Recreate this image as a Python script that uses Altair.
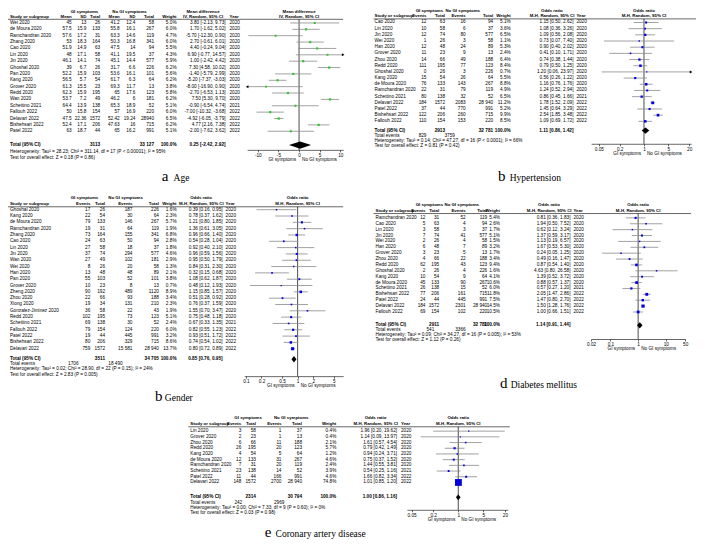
import altair as alt
import pandas as pd

# ------------------------------------------------------------------ data
# (a) Age — mean difference
age_study = ["Wei 2020", "de Moura 2020", "Ramchandran 2020", "Zhang 2020", "Cao 2020", "Lin 2020",
             "Jin 2020", "Ghoshal 2020", "Pan 2020", "Kang 2020", "Grover 2020", "Redd 2020", "Wan 2020",
             "Schettino 2021", "Fallouh 2022", "Delavari 2022", "Bishehsari 2022", "Patel 2022"]
age_gi_mean = [45, 57.5, 57.6, 53, 51.9, 48, 46.1, 39, 52.2, 56.5, 61.3, 62.3, 53.7, 64.4, 50, 47.5, 52.4, 63]
age_gi_sd = [13, 15.9, 17.2, 18.3, 14.9, 17.1, 14.1, 6.7, 15.9, 5.7, 15.5, 15.9, 7.2, 13.9, 15.8, 22.36, 17.1, 18.7]
age_gi_n = [26, 133, 31, 164, 63, 58, 74, 26, 103, 54, 23, 195, 49, 138, 154, 1572, 206, 44]
age_no_mean = [41.2, 55.8, 63.3, 50.3, 47.5, 41.1, 45.1, 31.7, 53.6, 61.7, 69.3, 65, 46.2, 65.3, 57, 52.42, 47.63, 65]
age_no_sd = [12.4, 16.1, 14.6, 16.8, 14, 19.5, 14.4, 6.6, 16.1, 6.3, 11.7, 17.6, 6, 18.9, 16.9, 19.24, 16, 16.2]
age_no_n = [58, 267, 119, 341, 94, 37, 577, 226, 101, 64, 13, 123, 181, 52, 220, 28940, 715, 991]
age_w = [5.0, 6.0, 4.7, 6.0, 5.5, 4.3, 5.9, 6.2, 5.6, 6.2, 3.8, 5.8, 6.2, 5.1, 6.0, 6.5, 6.2, 5.1]
age_md = [3.80, 1.70, -5.70, 2.70, 4.40, 6.90, 1.00, 7.30, -1.40, -5.20, -8.00, -2.70, 7.50, -0.90, -7.00, -4.92, 4.77, -2.00]
age_lo = [-2.13, -1.62, -12.30, -0.61, -0.24, -0.77, -2.42, 4.58, -5.79, -7.37, -16.90, -6.53, 5.30, -6.54, -10.32, -6.05, 2.16, -7.62]
age_hi = [9.73, 5.02, 0.90, 6.01, 9.04, 14.57, 4.42, 10.02, 2.99, -3.03, 0.90, 1.13, 9.70, 4.74, -3.68, -3.79, 7.38, 3.62]
age_year = [2020] * 13 + [2021, 2022, 2022, 2022, 2022]
age_total = [3113, 33127, 0.25, -2.42, 2.92]
age_het = "Heterogeneity: Tau² = 28.23; Chi² = 311.14, df = 17 (P < 0.00001); I² = 95%"
age_test = "Test for overall effect: Z = 0.18 (P = 0.86)"

# (b) Hypertension
ht_study = ["Cao 2020", "Lin 2020", "Jin 2020", "Wei 2020", "Han 2020", "Grover 2020", "Zhou 2020", "Redd 2020",
            "Ghoshal 2020", "Kang 2020", "de Moura 2020", "Ramchandran 2020", "Schettino 2021", "Delavari 2022",
            "Patel 2022", "Bishehsari 2022", "Fallouh 2022"]
ht_gi_e = [12, 10, 12, 1, 12, 11, 14, 111, 0, 15, 76, 22, 80, 184, 37, 122, 110]
ht_gi_n = [63, 58, 74, 26, 48, 23, 66, 195, 26, 54, 133, 31, 138, 1572, 44, 206, 154]
ht_no_e = [16, 6, 80, 3, 24, 9, 49, 77, 3, 26, 143, 79, 32, 2083, 770, 260, 153]
ht_no_n = [94, 37, 577, 58, 89, 13, 188, 123, 226, 64, 267, 119, 52, 28940, 991, 715, 220]
ht_w = [5.1, 3.6, 6.5, 1.1, 5.3, 2.4, 6.4, 8.4, 0.7, 5.5, 8.8, 4.9, 6.5, 11.2, 5.2, 9.9, 8.5]
ht_or = [1.15, 1.08, 1.09, 0.73, 0.90, 0.41, 0.74, 0.79, 1.20, 0.56, 1.16, 1.24, 0.86, 1.78, 1.45, 2.54, 1.09]
ht_lo = [0.50, 0.36, 0.56, 0.07, 0.40, 0.10, 0.38, 0.50, 0.06, 0.26, 0.76, 0.52, 0.45, 1.52, 0.64, 1.85, 0.69]
ht_hi = [2.62, 3.26, 2.08, 7.40, 2.02, 1.71, 1.44, 1.25, 23.97, 1.22, 1.76, 2.94, 1.66, 2.09, 3.29, 3.48, 1.72]
ht_year = [2020] * 12 + [2021] + [2022] * 4
ht_total = [2913, 32781, 1.11, 0.86, 1.42]
ht_events = [829, 3759]
ht_het = "Heterogeneity: Tau² = 0.14; Chi² = 47.27, df = 16 (P < 0.0001); I² = 66%"
ht_test = "Test for overall effect: Z = 0.81 (P = 0.42)"

# (c) Gender
gd_study = ["Ghoshal 2020", "Kang 2020", "de Moura 2020", "Ramchandran 2020", "Zhang 2020", "Cao 2020", "Lin 2020",
            "Jin 2020", "Wan 2020", "Wei 2020", "Han 2020", "Pan 2020", "Grover 2020", "Zheng 2020", "Zhou 2020",
            "Xiong 2020", "Gonzalez-Jiminez 2020", "Redd 2020", "Schettino 2021", "Fallouh 2022", "Patel 2022",
            "Bishehsari 2022", "Delavari 2022"]
gd_gi_e = [17, 22, 79, 19, 73, 24, 27, 37, 27, 8, 13, 55, 10, 90, 22, 19, 36, 102, 69, 79, 19, 80, 759]
gd_gi_n = [26, 54, 133, 31, 164, 63, 58, 74, 49, 26, 48, 103, 23, 192, 66, 34, 58, 195, 138, 154, 44, 206, 1572]
gd_no_e = [187, 30, 146, 64, 155, 50, 18, 294, 102, 20, 48, 52, 8, 489, 93, 131, 22, 73, 30, 124, 445, 329, 15581]
gd_no_n = [226, 64, 267, 119, 341, 94, 37, 577, 181, 58, 89, 101, 13, 1120, 188, 210, 43, 123, 52, 220, 991, 715, 28940]
gd_w = [1.6, 2.3, 5.7, 1.9, 6.8, 2.8, 1.8, 4.6, 2.9, 1.3, 2.1, 3.8, 0.7, 8.9, 3.4, 2.3, 1.9, 5.1, 2.4, 6.0, 3.2, 8.6, 13.7]
gd_or = [0.39, 0.78, 1.21, 1.36, 0.96, 0.54, 0.92, 0.96, 0.95, 0.84, 0.32, 1.08, 0.48, 1.15, 0.51, 0.76, 1.55, 0.75, 0.67, 0.82, 0.93, 0.74, 0.80]
gd_lo = [0.16, 0.37, 0.80, 0.61, 0.66, 0.28, 0.40, 0.59, 0.50, 0.31, 0.15, 0.62, 0.12, 0.85, 0.28, 0.37, 0.70, 0.48, 0.33, 0.55, 0.51, 0.54, 0.72]
gd_hi = [0.95, 1.62, 1.85, 3.05, 1.40, 1.04, 2.10, 1.56, 1.79, 2.30, 0.68, 1.87, 1.93, 1.57, 0.92, 1.59, 3.47, 1.18, 1.35, 1.23, 1.72, 1.02, 0.89]
gd_year = [2020] * 18 + [2021] + [2022] * 4
gd_total = [3511, 34705, 0.85, 0.76, 0.95]
gd_events = [1706, 18490]
gd_het = "Heterogeneity: Tau² = 0.02; Chi² = 28.90, df = 22 (P = 0.15); I² = 24%"
gd_test = "Test for overall effect: Z = 2.83 (P = 0.005)"

# (d) Diabetes mellitus
dm_study = ["Ramchandran 2020", "Cao 2020", "Lin 2020", "Jin 2020", "Wei 2020", "Han 2020", "Grover 2020",
            "Zhou 2020", "Redd 2020", "Ghoshal 2020", "Kang 2020", "de Moura 2020", "Schettino 2021",
            "Bishehsari 2022", "Patel 2022", "Delavari 2022", "Fallouh 2022"]
dm_gi_e = [12, 5, 3, 7, 2, 6, 3, 4, 62, 2, 10, 45, 26, 77, 24, 184, 69]
dm_gi_n = [31, 63, 58, 74, 26, 48, 23, 66, 195, 26, 54, 133, 138, 206, 44, 1572, 154]
dm_no_e = [52, 4, 3, 41, 4, 7, 5, 22, 43, 4, 9, 90, 15, 161, 445, 2301, 102]
dm_no_n = [119, 94, 37, 577, 58, 89, 13, 188, 123, 226, 64, 267, 52, 715, 991, 28940, 220]
dm_w = [5.4, 2.6, 1.7, 5.1, 1.5, 3.2, 1.7, 3.4, 9.4, 1.6, 4.1, 10.6, 6.0, 11.8, 7.5, 14.5, 10.5]
dm_or = [0.81, 1.94, 0.62, 1.37, 1.13, 1.67, 0.24, 0.49, 0.87, 4.63, 1.39, 0.88, 0.57, 2.05, 1.47, 1.50, 1.00]
dm_lo = [0.36, 0.50, 0.12, 0.59, 0.19, 0.53, 0.05, 0.16, 0.54, 0.80, 0.52, 0.57, 0.27, 1.47, 0.80, 1.28, 0.66]
dm_hi = [1.83, 7.52, 3.24, 3.17, 6.57, 5.30, 1.25, 1.47, 1.40, 26.58, 3.72, 1.37, 1.20, 2.86, 2.70, 1.76, 1.51]
dm_year = [2020] * 12 + [2021] + [2022] * 4
dm_total = [2911, 32781, 1.14, 0.91, 1.44]
dm_events = [541, 3366]
dm_het = "Heterogeneity: Tau² = 0.09; Chi² = 34.27, df = 16 (P = 0.005); I² = 53%"
dm_test = "Test for overall effect: Z = 1.12 (P = 0.26)"

# (e) Coronary artery disease
cad_study = ["Lin 2020", "Grover 2020", "Zhou 2020", "Redd 2020", "Kang 2020", "de Moura 2020",
             "Ramchandran 2020", "Schettino 2021", "Patel 2022", "Delavari 2022"]
cad_gi_e = [3, 2, 6, 26, 4, 12, 7, 23, 11, 148]
cad_gi_n = [58, 23, 66, 195, 54, 133, 31, 138, 44, 1572]
cad_no_e = [1, 1, 11, 20, 5, 31, 20, 14, 166, 2700]
cad_no_n = [37, 13, 188, 123, 64, 267, 119, 52, 991, 28940]
cad_w = [0.4, 0.4, 2.1, 5.7, 1.2, 4.6, 2.4, 3.9, 4.6, 74.8]
cad_or = [1.96, 1.14, 1.61, 0.79, 0.94, 0.75, 1.44, 0.54, 1.66, 1.01]
cad_lo = [0.20, 0.09, 0.57, 0.42, 0.24, 0.37, 0.55, 0.25, 0.82, 0.85]
cad_hi = [19.62, 13.97, 4.54, 1.49, 3.71, 1.52, 3.81, 1.16, 3.34, 1.20]
cad_year = [2020] * 7 + [2021, 2022, 2022]
cad_total = [2314, 30794, 1.00, 0.86, 1.16]
cad_events = [242, 2969]
cad_het = "Heterogeneity: Tau² = 0.00; Chi² = 7.33, df = 9 (P = 0.60); I² = 0%"
cad_test = "Test for overall effect: Z = 0.03 (P = 0.98)"

# ------------------------------------------------------------------ layout helpers
W, H = 690, 532
FONT = "Liberation Sans"
SERIF = "Liberation Serif"
FS = 4.7
FSH = 4.35


def TX(o):
    return round((o - 3) * 0.98, 2)


def TY(o):
    return round((o - 1) * 0.965, 2)


def fmt_n(v):
    return f"{v:,}".replace(",", " ") if v >= 10000 else str(v)


def fmt_v(v):
    return f"{v:g}"


def fmt_ci(e, l, h):
    return f"{e:.2f} [{l:.2f}, {h:.2f}]"


def make_panel(L, study, cols, est, lo, hi, wts, years, total, events, het, test, sq_color):
    y0, st = L["y0"], L["step"]

    def R(y):
        return (y - y0) / st

    ys = alt.Scale(domain=[0, 1], range=[TY(y0), TY(y0 + st)], nice=False, zero=False)
    xs = alt.Scale(type=L["xtype"], domain=L["xdom"], range=[TX(L["fx"][0]), TX(L["fx"][1])],
                   nice=False, zero=False, clamp=True)
    ax = alt.Axis(orient="bottom", offset=TY(L["ay"]) - H, values=L["ticks"], labelExpr="datum.value",
                  title=None, grid=False, domainColor="black", domainWidth=0.6, tickColor="black",
                  tickWidth=0.6, tickSize=2, labelFontSize=FS, labelFont=FONT, labelColor="black",
                  labelPadding=0.5, labelFlush=False, labelOverlap=False, labelBound=False)
    rows = list(range(len(study)))
    out = []

    def T(rr, tt, x, align="left", bold=False, size=FS):
        d = pd.DataFrame({"row": rr, "t": tt})
        out.append(alt.Chart(d).mark_text(align=align, baseline="middle", font=FONT, fontSize=size,
                                          fontWeight="bold" if bold else "normal", color="black").encode(
            x=alt.value(TX(x)), y=alt.Y("row:Q", scale=ys, axis=None), text="t:N"))

    def X(f):
        return alt.X(f, scale=xs, axis=ax)

    def Yf(f):
        return alt.Y(f, scale=ys, axis=None)

    # headers
    for t, x, a in L["h1"]:
        T([R(L["h1y"])], [t], x, a, True, FSH)
    for t, x, a in L["h2"]:
        T([R(L["h2y"])], [t], x, a, True, FSH)
    # body
    T(rows, study, L["sx"])
    for vals, x in cols:
        T(rows, vals, x, "right")
    T(rows, [fmt_ci(e, l, h) for e, l, h in zip(est, lo, hi)], L["cx"], "right")
    T(rows, [str(y) for y in years], L["yx"])
    # total row
    ty = R(L["ty"])
    T([ty], ["Total (95% CI)"], L["sx"], "left", True)
    T([ty], [fmt_n(total[0])], L["c_gi_tot"], "right", True)
    T([ty], [fmt_n(total[1])], L["c_no_tot"], "right", True)
    T([ty], ["100.0%"], L["c_w"], "right", True)
    T([ty], [fmt_ci(total[2], total[3], total[4])], L["cx"], "right", True)
    if events:
        T([R(L["ey"])], ["Total events"], L["sx"])
        T([R(L["ey"])], [str(events[0])], L["ev_x"][0], "right")
        T([R(L["ey"])], [fmt_n(events[1])], L["ev_x"][1], "right")
    T([R(L["hy"])], [het], L["sx"])
    T([R(L["zy"])], [test], L["sx"])
    # header underline
    out.append(alt.Chart(pd.DataFrame({"r": [R(L["ly"])]})).mark_rule(color="black", strokeWidth=0.6).encode(
        x=alt.value(TX(L["lx"][0])), x2=alt.value(TX(L["lx"][1])), y=Yf("r:Q")))
    # null line
    nd = pd.DataFrame({"v": [L["null"]], "a": [R(L["ly"])], "b": [R(L["ay"])]})
    out.append(alt.Chart(nd).mark_rule(color="black", strokeWidth=0.7).encode(x=X("v:Q"), y=Yf("a:Q"), y2="b:Q"))
    # CIs + squares
    fd = pd.DataFrame({"row": rows, "est": est, "lo": lo, "hi": hi, "w": wts})
    out.append(alt.Chart(fd).mark_rule(color="#8a8a8a", strokeWidth=0.8).encode(
        x=X("lo:Q"), x2="hi:Q", y=Yf("row:Q")))
    out.append(alt.Chart(fd).mark_square(color=sq_color, opacity=1).encode(
        x=X("est:Q"), y=Yf("row:Q"),
        size=alt.Size("w:Q", scale=alt.Scale(domain=[0, 100], range=[1.2, 62]), legend=None)))
    # arrows for CIs running off the axis
    dmin, dmax = L["xdom"]
    left = [(r, l) for r, l in zip(rows, lo) if l < dmin]
    right = [(r, h) for r, h in zip(rows, hi) if h > dmax]
    if left:
        out.append(alt.Chart(pd.DataFrame(left, columns=["row", "v"])).mark_point(
            shape="triangle-left", filled=True, color="black", size=9, opacity=1).encode(x=X("v:Q"), y=Yf("row:Q")))
    if right:
        out.append(alt.Chart(pd.DataFrame(right, columns=["row", "v"])).mark_point(
            shape="triangle-right", filled=True, color="black", size=9, opacity=1).encode(x=X("v:Q"), y=Yf("row:Q")))
    # summary diamond
    hh = L["dh"] / st
    dd = pd.DataFrame({"x": [total[3], total[2], total[4]], "a": [ty, ty - hh, ty], "b": [ty, ty + hh, ty]})
    out.append(alt.Chart(dd).mark_area(color="black", orient="vertical").encode(
        x=X("x:Q"), y=Yf("a:Q"), y2="b:Q"))
    # forest headers
    hd = pd.DataFrame({"v": [L["null"]] * 2, "r": [R(L["h1y"]), R(L["h2y"])], "t": [L["fh1"], L["fh2"]]})
    out.append(alt.Chart(hd).mark_text(align="center", baseline="middle", font=FONT, fontSize=FSH,
                                       fontWeight="bold", color="black").encode(x=X("v:Q"), y=Yf("r:Q"), text="t:N"))
    gl = pd.DataFrame({"v": [L["null"]], "r": [R(L["ay"] + L["gap"])]})
    out.append(alt.Chart(gl).mark_text(align="right", baseline="middle", dx=-3, font=FONT, fontSize=FS,
                                       color="black").encode(x=X("v:Q"), y=Yf("r:Q"), text=alt.value("GI symptoms")))
    out.append(alt.Chart(gl).mark_text(align="left", baseline="middle", dx=3, font=FONT, fontSize=FS,
                                       color="black").encode(x=X("v:Q"), y=Yf("r:Q"), text=alt.value("No GI symptoms")))
    return alt.layer(*out)


def or_headers(sx, c_e, c_t, c_e2, c_t2, c_w, gi_c, no_c, cx, yx):
    h1 = [("GI symptoms", gi_c, "center"), ("No GI symptoms", no_c, "center"), ("Odds ratio", cx - 22, "center")]
    h2 = [("Study or subgroup", sx, "left"), ("Events", c_e, "right"), ("Total", c_t, "right"),
          ("Events", c_e2, "right"), ("Total", c_t2, "right"), ("Weight", c_w, "right"),
          ("M-H, Random, 95% CI", cx + 1, "right"), ("Year", yx, "left")]
    return h1, h2


# ---- panel a : Age
La = dict(y0=16.5, step=6.6, h1y=5, h2y=10, ly=12.7, ty=143, hy=150, zy=156, ay=148, gap=11, dh=3.8,
          sx=5, cx=225, yx=229, c_gi_tot=97, c_no_tot=152, c_w=175,
          xtype="linear", xdom=[-12.6, 10.7], fx=[247, 345], ticks=[-10, -5, 0, 5, 10], null=0,
          lx=[3, 345], fh1="Mean difference", fh2="IV, Random, 95% CI",
          h1=[("GI symptoms", 81, "center"), ("No GI symptoms", 127, "center"), ("Mean difference", 202, "center")],
          h2=[("Study or subgroup", 5, "left"), ("Mean", 68, "right"), ("SD", 83, "right"), ("Total", 97, "right"),
              ("Mean", 117, "right"), ("SD", 133, "right"), ("Total", 152, "right"), ("Weight", 175, "right"),
              ("IV, Random, 95% CI", 202, "center"), ("Year", 229, "left")])
pa = make_panel(La, age_study,
                [([fmt_v(v) for v in age_gi_mean], 68), ([fmt_v(v) for v in age_gi_sd], 83),
                 ([fmt_n(v) for v in age_gi_n], 97), ([fmt_v(v) for v in age_no_mean], 117),
                 ([fmt_v(v) for v in age_no_sd], 133), ([str(v) for v in age_no_n], 152),
                 ([f"{v:.1f}%" for v in age_w], 175)],
                age_md, age_lo, age_hi, age_w, age_year, age_total, None, age_het, age_test, "#2ec82e")

# ---- panel b : Hypertension
h1b, h2b = or_headers(377, 430, 449, 470, 498, 516, 433, 467, 580, 583)
Lb = dict(y0=16, step=6.4, h1y=4, h2y=9.5, ly=12.3, ty=128, ey=133.3, hy=139.2, zy=144.3, ay=141.7, gap=10.5, dh=3.2,
          sx=377, cx=580, yx=583, c_gi_tot=449, c_no_tot=498, c_w=516, ev_x=[430, 459],
          xtype="log", xdom=[0.03, 22.7], fx=[598, 700], ticks=[0.05, 0.2, 1, 5, 20], null=1,
          lx=[376, 705], fh1="Odds ratio", fh2="M-H, Random, 95% CI", h1=h1b, h2=h2b)
pb = make_panel(Lb, ht_study,
                [([str(v) for v in ht_gi_e], 430), ([fmt_n(v) for v in ht_gi_n], 449),
                 ([fmt_n(v) for v in ht_no_e], 470), ([fmt_n(v) for v in ht_no_n], 498),
                 ([f"{v:.1f}%" for v in ht_w], 516)],
                ht_or, ht_lo, ht_hi, ht_w, ht_year, ht_total, ht_events, ht_het, ht_test, "#0000e0")

# ---- panel c : Gender
h1c, h2c = or_headers(5, 87, 102, 130, 157, 175, 81, 123, 222, 225)
Lc = dict(y0=210, step=6.55, h1y=198, h2y=204, ly=207, ty=365, ey=370.3, hy=375.6, zy=381, ay=382.5, gap=10.5, dh=3.4,
          sx=5, cx=222, yx=225, c_gi_tot=102, c_no_tot=157, c_w=175, ev_x=[75, 120],
          xtype="log", xdom=[0.0925, 7.6], fx=[244, 345], ticks=[0.1, 0.2, 0.5, 1, 2, 5], null=1,
          lx=[3, 345], fh1="Odds ratio", fh2="M-H, Random, 95% CI", h1=h1c, h2=h2c)
pc = make_panel(Lc, gd_study,
                [([str(v) for v in gd_gi_e], 87), ([fmt_n(v) for v in gd_gi_n], 102),
                 ([fmt_n(v) for v in gd_no_e], 130), ([fmt_n(v) for v in gd_no_n], 157),
                 ([f"{v:.1f}%" for v in gd_w], 175)],
                gd_or, gd_lo, gd_hi, gd_w, gd_year, gd_total, gd_events, gd_het, gd_test, "#0000e0")

# ---- panel d : Diabetes mellitus
h1d, h2d = or_headers(378, 429, 443, 470, 492, 505, 433, 466, 577, 580)
Ld = dict(y0=218.5, step=6.1, h1y=205.5, h2y=211, ly=214, ty=330, ey=335, hy=340, zy=345, ay=344, gap=10.5, dh=3.2,
          sx=378, cx=577, yx=580, c_gi_tot=443, c_no_tot=492, c_w=505, ev_x=[438, 470],
          xtype="log", xdom=[0.02, 50], fx=[598, 694], ticks=[0.02, 0.1, 1, 10, 50], null=1,
          lx=[376, 700], fh1="Odds ratio", fh2="M-H, Random, 95% CI", h1=h1d, h2=h2d)
pdm = make_panel(Ld, dm_study,
                 [([str(v) for v in dm_gi_e], 429), ([fmt_n(v) for v in dm_gi_n], 443),
                  ([fmt_n(v) for v in dm_no_e], 470), ([fmt_n(v) for v in dm_no_n], 492),
                  ([f"{v:.1f}%" for v in dm_w], 505)],
                 dm_or, dm_lo, dm_hi, dm_w, dm_year, dm_total, dm_events, dm_het, dm_test, "#0000e0")

# ---- panel e : Coronary artery disease
h1e, h2e = or_headers(189, 241, 256, 282, 303, 338, 248, 292, 400, 404)
Le = dict(y0=439.5, step=5.9, h1y=426, h2y=432, ly=435, ty=508, ey=514, hy=519, zy=524, ay=521, gap=10, dh=3.0,
          sx=189, cx=400, yx=404, c_gi_tot=256, c_no_tot=303, c_w=338, ev_x=[242, 285],
          xtype="log", xdom=[0.037, 24], fx=[410, 513], ticks=[0.05, 0.2, 1, 5, 20], null=1,
          lx=[187, 515], fh1="Odds ratio", fh2="M-H, Random, 95% CI", h1=h1e, h2=h2e)
pe = make_panel(Le, cad_study,
                [([str(v) for v in cad_gi_e], 241), ([fmt_n(v) for v in cad_gi_n], 256),
                 ([fmt_n(v) for v in cad_no_e], 282), ([fmt_n(v) for v in cad_no_n], 303),
                 ([f"{v:.1f}%" for v in cad_w], 338)],
                cad_or, cad_lo, cad_hi, cad_w, cad_year, cad_total, cad_events, cad_het, cad_test, "#0000e0")

# ---- panel captions
caption_letters = ["a", "b", "b", "d", "e"]
caption_words = ["Age", "Hypertension", "Gender", "Diabetes mellitus", "Coronary artery disease"]
caption_pos = [(160, 172, 180), (503, 515, 180), (153, 163, 408), (505, 516, 395), (265, 276, 549)]


def cap(x, y, t, size):
    return alt.Chart(pd.DataFrame({"t": [t]})).mark_text(
        align="left", baseline="alphabetic", font=SERIF, fontSize=size, color="black").encode(
        x=alt.value(TX(x)), y=alt.value(TY(y)), text="t:N")


caps = []
for letter, word, (lx, wx, y) in zip(caption_letters, caption_words, caption_pos):
    caps.append(cap(lx, y, letter, 15))
    caps.append(cap(wx, y, word, 9.5))

chart = alt.layer(pa, pb, pc, pdm, pe, *caps).resolve_scale(
    x="independent", y="independent", size="independent"
).properties(
    width=W, height=H, padding=0, autosize=alt.AutoSizeParams(type="none")
).configure_view(stroke=None)

chart.save("out.html", embed_options={"renderer": "svg", "actions": False})
